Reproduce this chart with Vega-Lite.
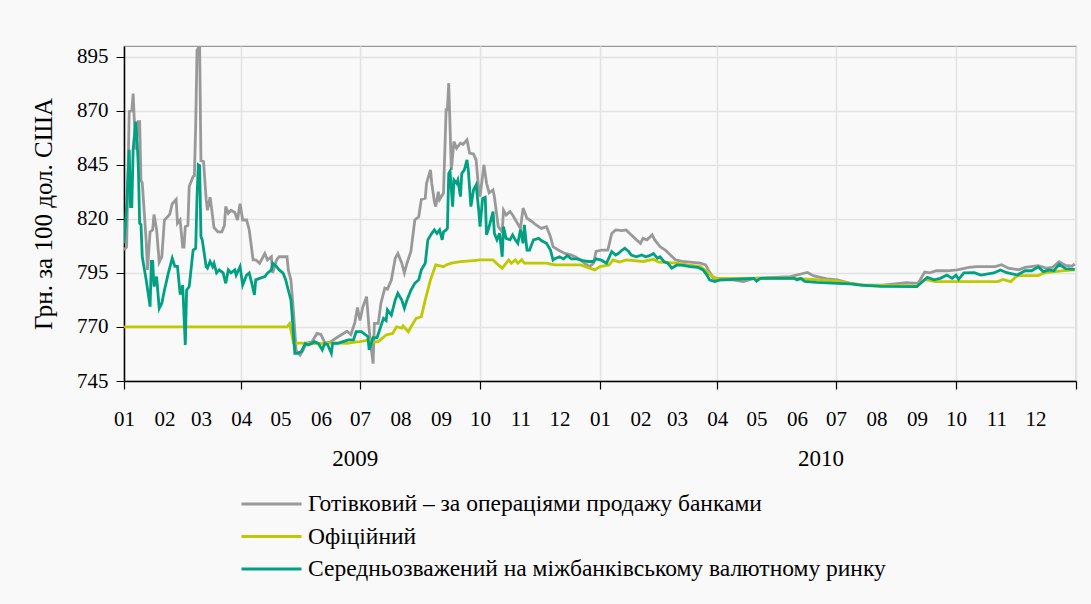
{
  "$schema": "https://vega.github.io/schema/vega-lite/v6.json",
  "width": 952,
  "height": 335,
  "autosize": {"type": "none"},
  "padding": {"left": 124, "top": 46, "right": 15, "bottom": 223},
  "background": "#f9f9f9",
  "config": {
    "font": "Liberation Serif",
    "view": {"stroke": "#9a9a9a", "strokeWidth": 1.2, "fill": "#f9f9f9"}
  },
  "datasets": {
    "cash": [
      {"date":"2009-01-01","value":805.6},{"date":"2009-01-03","value":807},{"date":"2009-01-05","value":869.7},{"date":"2009-01-07","value":870},{"date":"2009-01-08","value":878},{"date":"2009-01-09","value":864.4},{"date":"2009-01-10","value":852},{"date":"2009-01-12","value":865},{"date":"2009-01-13","value":865},{"date":"2009-01-14","value":838},{"date":"2009-01-15","value":836.7},{"date":"2009-01-18","value":810},{"date":"2009-01-19","value":796.4},{"date":"2009-01-21","value":814},{"date":"2009-01-23","value":815},{"date":"2009-01-24","value":822},{"date":"2009-01-26","value":815},{"date":"2009-01-28","value":800},{"date":"2009-01-30","value":802.5},{"date":"2009-02-01","value":819.5},{"date":"2009-02-05","value":822},{"date":"2009-02-07","value":827},{"date":"2009-02-10","value":829},{"date":"2009-02-11","value":818},{"date":"2009-02-13","value":819.5},{"date":"2009-02-15","value":807},{"date":"2009-02-16","value":807},{"date":"2009-02-17","value":816.4},{"date":"2009-02-19","value":817},{"date":"2009-02-20","value":835},{"date":"2009-02-23","value":839.6},{"date":"2009-02-24","value":840},{"date":"2009-02-25","value":864},{"date":"2009-02-26","value":898},{"date":"2009-02-28","value":900},{"date":"2009-03-01","value":847},{"date":"2009-03-03","value":846.5},{"date":"2009-03-05","value":829},{"date":"2009-03-06","value":824},{"date":"2009-03-08","value":830},{"date":"2009-03-09","value":825.7},{"date":"2009-03-11","value":816},{"date":"2009-03-14","value":814},{"date":"2009-03-17","value":814},{"date":"2009-03-19","value":817},{"date":"2009-03-20","value":825.7},{"date":"2009-03-22","value":822.6},{"date":"2009-03-24","value":824},{"date":"2009-03-27","value":823},{"date":"2009-03-29","value":819.5},{"date":"2009-03-31","value":827},{"date":"2009-04-02","value":819.5},{"date":"2009-04-05","value":819.5},{"date":"2009-04-07","value":815},{"date":"2009-04-10","value":801},{"date":"2009-04-12","value":801},{"date":"2009-04-15","value":799.5},{"date":"2009-04-19","value":804},{"date":"2009-04-21","value":801},{"date":"2009-04-24","value":802.5},{"date":"2009-04-25","value":795},{"date":"2009-04-28","value":801},{"date":"2009-04-30","value":802.5},{"date":"2009-05-06","value":802.5},{"date":"2009-05-07","value":796.4},{"date":"2009-05-09","value":791.7},{"date":"2009-05-11","value":776.5},{"date":"2009-05-13","value":759},{"date":"2009-05-16","value":757},{"date":"2009-05-18","value":759},{"date":"2009-05-21","value":762.6},{"date":"2009-05-25","value":763},{"date":"2009-05-29","value":767},{"date":"2009-06-01","value":766.5},{"date":"2009-06-04","value":762.6},{"date":"2009-06-08","value":763},{"date":"2009-06-13","value":765},{"date":"2009-06-17","value":766.5},{"date":"2009-06-21","value":768},{"date":"2009-06-24","value":766.5},{"date":"2009-06-27","value":772},{"date":"2009-06-29","value":779},{"date":"2009-07-01","value":773},{"date":"2009-07-03","value":779},{"date":"2009-07-06","value":784},{"date":"2009-07-08","value":768.6},{"date":"2009-07-11","value":753},{"date":"2009-07-12","value":771.7},{"date":"2009-07-15","value":771.7},{"date":"2009-07-17","value":781},{"date":"2009-07-20","value":788},{"date":"2009-07-22","value":787.5},{"date":"2009-07-25","value":791.7},{"date":"2009-07-28","value":801.8},{"date":"2009-07-30","value":804},{"date":"2009-08-02","value":799.5},{"date":"2009-08-04","value":795},{"date":"2009-08-06","value":799.5},{"date":"2009-08-09","value":805},{"date":"2009-08-12","value":819.5},{"date":"2009-08-15","value":821},{"date":"2009-08-17","value":829},{"date":"2009-08-20","value":829.6},{"date":"2009-08-21","value":836.5},{"date":"2009-08-24","value":842.7},{"date":"2009-08-25","value":836.5},{"date":"2009-08-27","value":828},{"date":"2009-08-28","value":825.7},{"date":"2009-08-30","value":832.6},{"date":"2009-08-31","value":829},{"date":"2009-09-03","value":832},{"date":"2009-09-05","value":870.5},{"date":"2009-09-06","value":870.5},{"date":"2009-09-07","value":882.8},{"date":"2009-09-09","value":842.7},{"date":"2009-09-11","value":855.8},{"date":"2009-09-13","value":852.7},{"date":"2009-09-16","value":855},{"date":"2009-09-18","value":854.5},{"date":"2009-09-21","value":856.6},{"date":"2009-09-23","value":850.4},{"date":"2009-09-26","value":850},{"date":"2009-09-28","value":847.3},{"date":"2009-09-30","value":833.4},{"date":"2009-10-01","value":830.3},{"date":"2009-10-04","value":845},{"date":"2009-10-06","value":836.5},{"date":"2009-10-08","value":832},{"date":"2009-10-11","value":833.4},{"date":"2009-10-12","value":830.3},{"date":"2009-10-15","value":816.4},{"date":"2009-10-18","value":814},{"date":"2009-10-19","value":824},{"date":"2009-10-21","value":821.8},{"date":"2009-10-24","value":823.4},{"date":"2009-10-26","value":821.8},{"date":"2009-10-29","value":818.7},{"date":"2009-11-01","value":815.6},{"date":"2009-11-03","value":825},{"date":"2009-11-06","value":820.3},{"date":"2009-11-10","value":818.7},{"date":"2009-11-13","value":817.2},{"date":"2009-11-17","value":815.6},{"date":"2009-11-21","value":816.4},{"date":"2009-11-24","value":811.8},{"date":"2009-11-26","value":807.2},{"date":"2009-11-30","value":805.6},{"date":"2009-12-05","value":804},{"date":"2009-12-09","value":803.5},{"date":"2009-12-13","value":802.5},{"date":"2009-12-17","value":801},{"date":"2009-12-20","value":799.5},{"date":"2009-12-24","value":797.9},{"date":"2009-12-27","value":799.5},{"date":"2009-12-29","value":805},{"date":"2010-01-02","value":805.6},{"date":"2010-01-07","value":805.6},{"date":"2010-01-10","value":813.3},{"date":"2010-01-13","value":814.9},{"date":"2010-01-18","value":814.6},{"date":"2010-01-21","value":814.9},{"date":"2010-01-25","value":812.6},{"date":"2010-01-29","value":810.3},{"date":"2010-02-01","value":808.7},{"date":"2010-02-03","value":811},{"date":"2010-02-06","value":810.3},{"date":"2010-02-10","value":812.6},{"date":"2010-02-12","value":810.3},{"date":"2010-02-16","value":807.2},{"date":"2010-02-20","value":805.6},{"date":"2010-02-24","value":803.3},{"date":"2010-02-28","value":801},{"date":"2010-03-05","value":800.3},{"date":"2010-03-11","value":800},{"date":"2010-03-19","value":799.5},{"date":"2010-03-23","value":798.7},{"date":"2010-03-25","value":796.4},{"date":"2010-03-29","value":792.5},{"date":"2010-04-03","value":791.8},{"date":"2010-04-13","value":791.8},{"date":"2010-04-21","value":791},{"date":"2010-04-29","value":792.5},{"date":"2010-05-27","value":793.3},{"date":"2010-06-04","value":794.5},{"date":"2010-06-09","value":795.2},{"date":"2010-06-14","value":793.6},{"date":"2010-06-24","value":792.2},{"date":"2010-07-02","value":791.8},{"date":"2010-07-12","value":790.2},{"date":"2010-07-22","value":789.4},{"date":"2010-08-06","value":789.4},{"date":"2010-08-24","value":790.5},{"date":"2010-09-02","value":790.2},{"date":"2010-09-07","value":795.4},{"date":"2010-09-11","value":795},{"date":"2010-09-16","value":796},{"date":"2010-09-24","value":796},{"date":"2010-10-02","value":796.4},{"date":"2010-10-11","value":797.6},{"date":"2010-10-17","value":797.9},{"date":"2010-10-31","value":797.9},{"date":"2010-11-05","value":798.8},{"date":"2010-11-10","value":797.2},{"date":"2010-11-18","value":796.5},{"date":"2010-11-23","value":797.6},{"date":"2010-12-03","value":798.4},{"date":"2010-12-09","value":797.2},{"date":"2010-12-14","value":797.6},{"date":"2010-12-19","value":800.2},{"date":"2010-12-24","value":798.5},{"date":"2010-12-29","value":798.2},{"date":"2010-12-31","value":799.2}
    ],
    "official": [
      {"date":"2009-01-01","value":770},{"date":"2009-05-06","value":770},{"date":"2009-05-08","value":771.5},{"date":"2009-05-11","value":762.5},{"date":"2009-05-16","value":762.5},{"date":"2009-05-31","value":762.3},{"date":"2009-06-12","value":762.6},{"date":"2009-06-21","value":762.4},{"date":"2009-06-27","value":763},{"date":"2009-07-01","value":763.2},{"date":"2009-07-08","value":764},{"date":"2009-07-11","value":763},{"date":"2009-07-15","value":763.2},{"date":"2009-07-21","value":766.3},{"date":"2009-07-26","value":767},{"date":"2009-07-29","value":770.1},{"date":"2009-08-02","value":769.5},{"date":"2009-08-03","value":770.5},{"date":"2009-08-07","value":767.8},{"date":"2009-08-09","value":770},{"date":"2009-08-13","value":774},{"date":"2009-08-17","value":774.8},{"date":"2009-08-20","value":782.5},{"date":"2009-08-24","value":791.8},{"date":"2009-08-28","value":798.7},{"date":"2009-09-03","value":797.9},{"date":"2009-09-05","value":798.7},{"date":"2009-09-09","value":799.5},{"date":"2009-09-16","value":800.2},{"date":"2009-09-26","value":800.7},{"date":"2009-10-01","value":801},{"date":"2009-10-11","value":801},{"date":"2009-10-15","value":798.7},{"date":"2009-10-18","value":797.2},{"date":"2009-10-20","value":798.7},{"date":"2009-10-23","value":801},{"date":"2009-10-25","value":799.5},{"date":"2009-10-28","value":801},{"date":"2009-10-30","value":799.5},{"date":"2009-11-02","value":801.2},{"date":"2009-11-04","value":799.5},{"date":"2009-11-21","value":799.5},{"date":"2009-11-27","value":798.7},{"date":"2009-12-17","value":798.7},{"date":"2009-12-24","value":797.2},{"date":"2009-12-28","value":796.4},{"date":"2010-01-01","value":797.9},{"date":"2010-01-08","value":798.7},{"date":"2010-01-11","value":801},{"date":"2010-01-16","value":800},{"date":"2010-01-21","value":801},{"date":"2010-02-03","value":800.3},{"date":"2010-02-11","value":801.3},{"date":"2010-02-15","value":800},{"date":"2010-03-01","value":799.5},{"date":"2010-03-09","value":798.7},{"date":"2010-03-19","value":797.9},{"date":"2010-03-24","value":795.6},{"date":"2010-03-28","value":793.3},{"date":"2010-04-01","value":792.5},{"date":"2010-04-11","value":792.5},{"date":"2010-05-27","value":792.6},{"date":"2010-06-19","value":791.8},{"date":"2010-07-02","value":791.2},{"date":"2010-07-12","value":790.2},{"date":"2010-07-22","value":789.3},{"date":"2010-09-01","value":789},{"date":"2010-09-07","value":792},{"date":"2010-09-15","value":791},{"date":"2010-11-02","value":791},{"date":"2010-11-06","value":792},{"date":"2010-11-12","value":791},{"date":"2010-11-17","value":793.8},{"date":"2010-12-03","value":793.8},{"date":"2010-12-07","value":795},{"date":"2010-12-16","value":795.6},{"date":"2010-12-21","value":796},{"date":"2010-12-31","value":796.4}
    ],
    "interbank": [
      {"date":"2009-01-01","value":808.7},{"date":"2009-01-03","value":825.7},{"date":"2009-01-05","value":852},{"date":"2009-01-06","value":825.7},{"date":"2009-01-07","value":825.7},{"date":"2009-01-08","value":852},{"date":"2009-01-10","value":865},{"date":"2009-01-11","value":856.6},{"date":"2009-01-12","value":844},{"date":"2009-01-13","value":818},{"date":"2009-01-14","value":817.5},{"date":"2009-01-15","value":802.5},{"date":"2009-01-18","value":791.8},{"date":"2009-01-21","value":779.4},{"date":"2009-01-22","value":800.3},{"date":"2009-01-23","value":800.3},{"date":"2009-01-24","value":788.7},{"date":"2009-01-26","value":793.3},{"date":"2009-01-28","value":778.6},{"date":"2009-01-30","value":781},{"date":"2009-02-01","value":787},{"date":"2009-02-04","value":794.9},{"date":"2009-02-07","value":801.8},{"date":"2009-02-09","value":798},{"date":"2009-02-11","value":798},{"date":"2009-02-13","value":785.6},{"date":"2009-02-14","value":785.6},{"date":"2009-02-15","value":789.4},{"date":"2009-02-17","value":761.7},{"date":"2009-02-18","value":787},{"date":"2009-02-20","value":788.7},{"date":"2009-02-23","value":805.6},{"date":"2009-02-25","value":806.4},{"date":"2009-02-26","value":830.3},{"date":"2009-02-27","value":845},{"date":"2009-02-28","value":844.6},{"date":"2009-03-01","value":811.8},{"date":"2009-03-02","value":810.3},{"date":"2009-03-05","value":797.9},{"date":"2009-03-06","value":797.2},{"date":"2009-03-08","value":800.3},{"date":"2009-03-10","value":797.9},{"date":"2009-03-11","value":799.5},{"date":"2009-03-13","value":795},{"date":"2009-03-15","value":796.4},{"date":"2009-03-18","value":795},{"date":"2009-03-20","value":790.2},{"date":"2009-03-22","value":796.4},{"date":"2009-03-24","value":795},{"date":"2009-03-27","value":796.4},{"date":"2009-03-28","value":794},{"date":"2009-03-31","value":797.9},{"date":"2009-04-02","value":789.4},{"date":"2009-04-05","value":794},{"date":"2009-04-07","value":795},{"date":"2009-04-09","value":790.2},{"date":"2009-04-11","value":784.8},{"date":"2009-04-12","value":791.8},{"date":"2009-04-15","value":792.5},{"date":"2009-04-19","value":793.3},{"date":"2009-04-21","value":794.9},{"date":"2009-04-24","value":796.4},{"date":"2009-04-25","value":799.5},{"date":"2009-04-28","value":797.9},{"date":"2009-04-30","value":796.4},{"date":"2009-05-03","value":794.9},{"date":"2009-05-05","value":791.8},{"date":"2009-05-07","value":787},{"date":"2009-05-09","value":782.5},{"date":"2009-05-10","value":774.8},{"date":"2009-05-12","value":757.8},{"date":"2009-05-14","value":757.8},{"date":"2009-05-17","value":758.6},{"date":"2009-05-20","value":762.4},{"date":"2009-05-22","value":761.7},{"date":"2009-05-25","value":762.4},{"date":"2009-05-27","value":763.2},{"date":"2009-05-30","value":762.4},{"date":"2009-06-02","value":759.4},{"date":"2009-06-04","value":762.4},{"date":"2009-06-06","value":762},{"date":"2009-06-09","value":757.8},{"date":"2009-06-10","value":762.4},{"date":"2009-06-14","value":762.4},{"date":"2009-06-18","value":763.2},{"date":"2009-06-22","value":764},{"date":"2009-06-26","value":764},{"date":"2009-06-28","value":767.8},{"date":"2009-07-02","value":767.8},{"date":"2009-07-05","value":766.5},{"date":"2009-07-07","value":765.5},{"date":"2009-07-08","value":759.4},{"date":"2009-07-11","value":765},{"date":"2009-07-14","value":765},{"date":"2009-07-16","value":768.6},{"date":"2009-07-19","value":774},{"date":"2009-07-21","value":773},{"date":"2009-07-22","value":777.9},{"date":"2009-07-25","value":775.5},{"date":"2009-07-28","value":782.5},{"date":"2009-07-30","value":785.6},{"date":"2009-08-02","value":782.5},{"date":"2009-08-04","value":778.6},{"date":"2009-08-06","value":782.5},{"date":"2009-08-09","value":787},{"date":"2009-08-12","value":790.2},{"date":"2009-08-15","value":791.8},{"date":"2009-08-17","value":796.4},{"date":"2009-08-20","value":799.5},{"date":"2009-08-22","value":810.3},{"date":"2009-08-25","value":813.3},{"date":"2009-08-27","value":814.9},{"date":"2009-08-29","value":813.3},{"date":"2009-08-31","value":814.9},{"date":"2009-09-02","value":810.3},{"date":"2009-09-03","value":814},{"date":"2009-09-05","value":814.9},{"date":"2009-09-06","value":815.6},{"date":"2009-09-07","value":841},{"date":"2009-09-08","value":842},{"date":"2009-09-10","value":825.7},{"date":"2009-09-11","value":838},{"date":"2009-09-13","value":836.5},{"date":"2009-09-14","value":838},{"date":"2009-09-16","value":830.3},{"date":"2009-09-17","value":841},{"date":"2009-09-19","value":842.7},{"date":"2009-09-21","value":847.3},{"date":"2009-09-22","value":842.7},{"date":"2009-09-24","value":825.7},{"date":"2009-09-26","value":833.4},{"date":"2009-09-28","value":835.7},{"date":"2009-09-30","value":824},{"date":"2009-10-01","value":816.4},{"date":"2009-10-03","value":829.5},{"date":"2009-10-05","value":830},{"date":"2009-10-06","value":812.6},{"date":"2009-10-08","value":816.4},{"date":"2009-10-11","value":823.4},{"date":"2009-10-12","value":813.3},{"date":"2009-10-14","value":810.3},{"date":"2009-10-16","value":813.3},{"date":"2009-10-18","value":802.5},{"date":"2009-10-19","value":816.4},{"date":"2009-10-21","value":811},{"date":"2009-10-24","value":810.3},{"date":"2009-10-26","value":812.6},{"date":"2009-10-28","value":810.3},{"date":"2009-10-30","value":808.7},{"date":"2009-11-01","value":815},{"date":"2009-11-03","value":808.7},{"date":"2009-11-04","value":817.2},{"date":"2009-11-06","value":805.6},{"date":"2009-11-08","value":805.6},{"date":"2009-11-11","value":810.3},{"date":"2009-11-15","value":811},{"date":"2009-11-17","value":810},{"date":"2009-11-21","value":808.7},{"date":"2009-11-24","value":805.6},{"date":"2009-11-26","value":801},{"date":"2009-11-27","value":801.5},{"date":"2009-12-01","value":802.5},{"date":"2009-12-04","value":801.5},{"date":"2009-12-07","value":803},{"date":"2009-12-10","value":801.5},{"date":"2009-12-14","value":801.5},{"date":"2009-12-19","value":800.7},{"date":"2009-12-23","value":800.3},{"date":"2009-12-27","value":800.3},{"date":"2009-12-29","value":801.5},{"date":"2010-01-02","value":800.9},{"date":"2010-01-06","value":799.5},{"date":"2010-01-10","value":804.9},{"date":"2010-01-13","value":803.3},{"date":"2010-01-15","value":804},{"date":"2010-01-18","value":805.6},{"date":"2010-01-20","value":806.4},{"date":"2010-01-23","value":804.9},{"date":"2010-01-25","value":803.3},{"date":"2010-01-29","value":802.5},{"date":"2010-02-02","value":803.3},{"date":"2010-02-05","value":802.5},{"date":"2010-02-08","value":803},{"date":"2010-02-11","value":804},{"date":"2010-02-14","value":801.8},{"date":"2010-02-16","value":802.5},{"date":"2010-02-19","value":800.3},{"date":"2010-02-22","value":799.5},{"date":"2010-02-25","value":797.2},{"date":"2010-03-01","value":798.7},{"date":"2010-03-06","value":798.5},{"date":"2010-03-11","value":797.9},{"date":"2010-03-17","value":797.6},{"date":"2010-03-21","value":796.4},{"date":"2010-03-24","value":794},{"date":"2010-03-26","value":791.8},{"date":"2010-03-30","value":791},{"date":"2010-04-03","value":791.8},{"date":"2010-04-13","value":792},{"date":"2010-04-29","value":792.5},{"date":"2010-05-01","value":791.2},{"date":"2010-05-04","value":792.5},{"date":"2010-05-30","value":792.5},{"date":"2010-06-01","value":791.8},{"date":"2010-06-04","value":792.5},{"date":"2010-06-07","value":791.1},{"date":"2010-06-16","value":790.6},{"date":"2010-07-02","value":790.2},{"date":"2010-07-12","value":789.9},{"date":"2010-07-20","value":789.4},{"date":"2010-08-04","value":788.8},{"date":"2010-09-01","value":788.7},{"date":"2010-09-09","value":793},{"date":"2010-09-14","value":791.8},{"date":"2010-09-19","value":792.5},{"date":"2010-09-24","value":794},{"date":"2010-09-28","value":792.5},{"date":"2010-10-01","value":794},{"date":"2010-10-03","value":792},{"date":"2010-10-07","value":795},{"date":"2010-10-15","value":795.1},{"date":"2010-10-20","value":794},{"date":"2010-10-30","value":795},{"date":"2010-11-04","value":796.4},{"date":"2010-11-09","value":795.1},{"date":"2010-11-17","value":794},{"date":"2010-11-23","value":796},{"date":"2010-11-28","value":796},{"date":"2010-12-03","value":797.8},{"date":"2010-12-07","value":795.6},{"date":"2010-12-11","value":796.4},{"date":"2010-12-15","value":796},{"date":"2010-12-19","value":799},{"date":"2010-12-24","value":797},{"date":"2010-12-31","value":796.6}
    ]
  },
  "encoding": {
    "y": {
      "field": "value",
      "type": "quantitative",
      "scale": {"domain": [745, 900], "nice": false, "zero": false},
      "axis": {
        "values": [745, 770, 795, 820, 845, 870, 895],
        "title": "Грн. за 100 дол. США",
        "titleFontSize": 25,
        "titleFontWeight": "normal",
        "titleColor": "black",
        "titlePadding": 20,
        "labelFontSize": 21,
        "labelColor": "black",
        "labelPadding": 8,
        "tickSize": 8,
        "tickColor": "black",
        "domainColor": "black",
        "domainWidth": 1.5,
        "grid": true,
        "gridColor": "#e3e3e3",
        "gridWidth": 1.5
      }
    }
  },
  "layer": [
    {
      "data": {"name": "cash"},
      "mark": {"type": "line", "strokeWidth": 2.8, "clip": true},
      "encoding": {
        "x": {
          "field": "date",
          "type": "temporal",
          "scale": {"domain": [{"year": 2009, "month": 1, "date": 1}, {"year": 2011, "month": 1, "date": 1}]},
          "axis": {
            "orient": "bottom",
            "title": null,
            "format": "%m",
            "values": [
              {"year": 2009, "month": 1, "date": 1}, {"year": 2009, "month": 2, "date": 1}, {"year": 2009, "month": 3, "date": 1}, {"year": 2009, "month": 4, "date": 1}, {"year": 2009, "month": 5, "date": 1}, {"year": 2009, "month": 6, "date": 1}, {"year": 2009, "month": 7, "date": 1}, {"year": 2009, "month": 8, "date": 1}, {"year": 2009, "month": 9, "date": 1}, {"year": 2009, "month": 10, "date": 1}, {"year": 2009, "month": 11, "date": 1}, {"year": 2009, "month": 12, "date": 1},
              {"year": 2010, "month": 1, "date": 1}, {"year": 2010, "month": 2, "date": 1}, {"year": 2010, "month": 3, "date": 1}, {"year": 2010, "month": 4, "date": 1}, {"year": 2010, "month": 5, "date": 1}, {"year": 2010, "month": 6, "date": 1}, {"year": 2010, "month": 7, "date": 1}, {"year": 2010, "month": 8, "date": 1}, {"year": 2010, "month": 9, "date": 1}, {"year": 2010, "month": 10, "date": 1}, {"year": 2010, "month": 11, "date": 1}, {"year": 2010, "month": 12, "date": 1}
            ],
            "ticks": false,
            "grid": false,
            "domain": true,
            "domainColor": "black",
            "domainWidth": 1.5,
            "labelFontSize": 21,
            "labelColor": "black",
            "labelPadding": 27,
            "labelFlush": false,
            "labelOverlap": false
          }
        },
        "color": {
          "datum": "Готівковий – за операціями продажу банками",
          "scale": {
            "domain": ["Готівковий – за операціями продажу банками", "Офіційний", "Середньозважений на міжбанківському валютному ринку"],
            "range": ["#999999", "#bfc800", "#00a082"]
          },
          "legend": {
            "orient": "none",
            "legendX": 116,
            "legendY": 448,
            "direction": "vertical",
            "title": null,
            "symbolType": "stroke",
            "symbolSize": 3600,
            "symbolStrokeWidth": 3,
            "labelFontSize": 23.5,
            "labelColor": "black",
            "labelLimit": 1000,
            "labelOffset": 5,
            "clipHeight": 20,
            "rowPadding": 8.5,
            "padding": 0
          }
        }
      }
    },
    {
      "data": {"name": "official"},
      "mark": {"type": "line", "strokeWidth": 2.8, "clip": true},
      "encoding": {
        "x": {
          "field": "date",
          "type": "temporal",
          "scale": {"domain": [{"year": 2009, "month": 1, "date": 1}, {"year": 2011, "month": 1, "date": 1}]},
          "axis": {
            "orient": "bottom",
            "title": null,
            "values": [
              {"year": 2009, "month": 1, "date": 1}, {"year": 2009, "month": 4, "date": 1}, {"year": 2009, "month": 7, "date": 1}, {"year": 2009, "month": 10, "date": 1},
              {"year": 2010, "month": 1, "date": 1}, {"year": 2010, "month": 4, "date": 1}, {"year": 2010, "month": 7, "date": 1}, {"year": 2010, "month": 10, "date": 1},
              {"year": 2011, "month": 1, "date": 1}
            ],
            "labels": false,
            "ticks": true,
            "tickSize": 8,
            "tickColor": "black",
            "tickWidth": 1.2,
            "domain": false,
            "grid": true,
            "gridColor": "#e3e3e3",
            "gridWidth": 1.5
          }
        },
        "color": {
          "datum": "Офіційний",
          "scale": {
            "domain": ["Готівковий – за операціями продажу банками", "Офіційний", "Середньозважений на міжбанківському валютному ринку"],
            "range": ["#999999", "#bfc800", "#00a082"]
          }
        }
      }
    },
    {
      "data": {"name": "interbank"},
      "mark": {"type": "line", "strokeWidth": 2.8, "clip": true},
      "encoding": {
        "x": {
          "field": "date",
          "type": "temporal",
          "scale": {"domain": [{"year": 2009, "month": 1, "date": 1}, {"year": 2011, "month": 1, "date": 1}]},
          "axis": {
            "orient": "bottom",
            "title": null,
            "format": "%Y",
            "values": [{"year": 2009, "month": 6, "date": 27}, {"year": 2010, "month": 6, "date": 19}],
            "ticks": false,
            "grid": false,
            "domain": false,
            "labelFontSize": 23,
            "labelColor": "black",
            "labelPadding": 66,
            "labelFlush": false,
            "labelOverlap": false
          }
        },
        "color": {
          "datum": "Середньозважений на міжбанківському валютному ринку",
          "scale": {
            "domain": ["Готівковий – за операціями продажу банками", "Офіційний", "Середньозважений на міжбанківському валютному ринку"],
            "range": ["#999999", "#bfc800", "#00a082"]
          }
        }
      }
    }
  ],
  "resolve": {"axis": {"x": "independent"}}
}
